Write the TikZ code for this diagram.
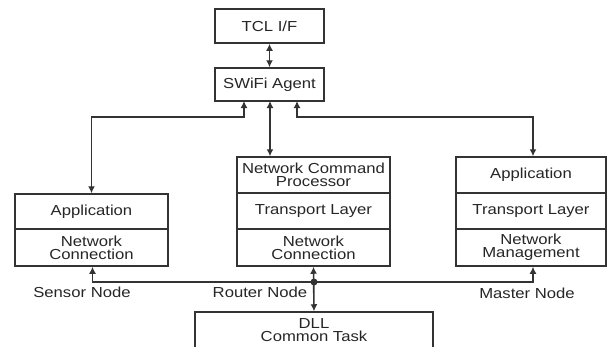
\documentclass[tikz,border=0pt]{standalone}
\usepackage{fontspec}
\setmainfont{Liberation Sans}[FakeStretch=1.15]
\usetikzlibrary{arrows.meta}
\begin{document}
\begin{tikzpicture}[x=1pt,y=-1pt,
  >={Latex[length=7pt,width=7pt]},
  conn/.style={draw=black!80, line width=1.6pt},
  lay/.style={draw=black!80, line width=1.5pt, inner sep=0pt, align=center,
    font=\fontsize{14.5}{13}\selectfont, text=black!85},
  lbl/.style={inner sep=0pt, font=\fontsize{14.5}{13}\selectfont, text=black!85}]
\useasboundingbox (0,0) rectangle (608,346);
\fill[white] (0,0) rectangle (608,346);
% top
\node[lay, minimum width=109pt, minimum height=34pt] (tcl) at (269.5,26) {TCL I/F};
\node[lay, minimum width=109pt, minimum height=33pt] (swifi) at (269.5,84.5) {SWiFi Agent};
% sensor node
\node[lay, minimum width=153pt, minimum height=35pt] (sapp) at (91.5,211.5) {Application};
\node[lay, minimum width=153pt, minimum height=37pt] (snc) at (91.5,247.5) {Network\\Connection};
% router node
\node[lay, minimum width=153pt, minimum height=36pt] (rncp) at (313.5,175) {Network Command\\Processor};
\node[lay, minimum width=153pt, minimum height=36pt] (rtl) at (313.5,211) {Transport Layer};
\node[lay, minimum width=153pt, minimum height=37pt] (rnc) at (313.5,247.5) {Network\\Connection};
% master node
\node[lay, minimum width=150pt, minimum height=36pt] (mapp) at (531,175) {Application};
\node[lay, minimum width=150pt, minimum height=36pt] (mtl) at (531,211) {Transport Layer};
\node[lay, minimum width=150pt, minimum height=37pt] (mnm) at (531,247.5) {Network\\Management};
% DLL
\node[lay, minimum width=238pt, minimum height=36pt] (dll) at (314,330) {DLL\\Common Task};
% labels
\node[lbl] (lsen) at (82,292) {Sensor Node};
\node[lbl] (lrou) at (260,292) {Router Node};
\node[lbl] (lmas) at (527,293) {Master Node};
% connectors
\draw[conn,<->] (tcl) -- (swifi);
\coordinate (sl) at (244,101);
\coordinate (sr) at (297,101);
\coordinate (sm) at (270,101);
\draw[conn,<->] (sl) -- (244,117) -| (sapp.north);
\draw[conn,<->] (sr) -- (297,117) -| ([xshift=2pt]mapp.north);
\draw[conn,<->] (sm) -- (sm |- rncp.north);
% bus
\coordinate (bus) at (314,282);
\draw[conn,->] (bus) -| ([xshift=1pt]snc.south);
\draw[conn,->] (bus) -| ([xshift=2pt]mnm.south);
\draw[conn,<->] (rnc.south) -- (dll.north);
\fill[black!80] (bus) circle (3.5pt);
\end{tikzpicture}
\end{document}
